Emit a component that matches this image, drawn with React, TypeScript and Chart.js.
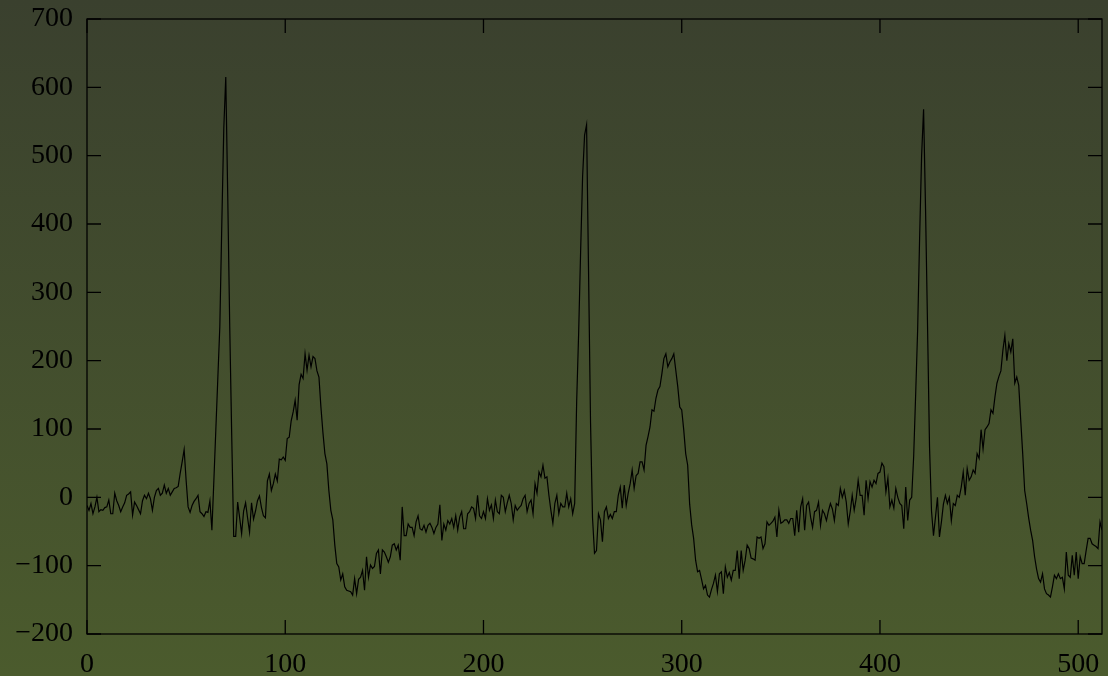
import React, { useEffect, useRef } from "react";
import { Chart, registerables } from "chart.js";

Chart.register(...registerables);

// Signal samples, index 0..127
const segA = [
  -12, -19, -9, -24, -14, 0, -21, -18, -19, -15,
  -14, -4, -24, -24, 6, -5, -12, -21, -14, -8,
  3, 5, 8, -26, -7, -12, -18, -24, -5, 3,
  -2, 6, -2, -19, 0, 10, 13, 3, 6, 18,
  6, 13, 3, 8, 13, 14, 16, 35, 52, 70,
  25, -14, -22, -12, -6, -2, 3, -21, -24, -28,
  -21, -22, -5, -48, 25, 100, 175, 250, 400, 540,
  615, 440, 250, 90, -57, -57, -7, -30, -53, -20,
  -8, -30, -51, -8, -32, -20, -5, 2, -15, -27,
  -30, 24, 34, 10, 20, 34, 24, 56, 55, 59,
  54, 86, 88, 112, 125, 142, 113, 165, 180, 174,
  210, 186, 208, 191, 206, 203, 185, 176, 132, 95,
  64, 49, 10, -19, -33, -70, -97, -102,
];

// index 128..255
const segB = [
  -121, -112, -131, -136, -137, -138, -143, -119, -141, -120,
  -117, -107, -136, -87, -117, -99, -104, -101, -82, -77,
  -112, -77, -80, -87, -95, -87, -70, -68, -77, -70,
  -92, -14, -56, -56, -39, -44, -44, -56, -36, -27,
  -46, -48, -41, -51, -41, -38, -44, -53, -44, -39,
  -11, -63, -39, -48, -34, -39, -31, -44, -27, -48,
  -29, -21, -46, -46, -24, -21, -14, -16, -31, 3,
  -27, -31, -21, -31, -2, -19, -11, -31, -4, -21,
  -24, 3, 0, -21, -8, 3, -9, -33, -12, -19,
  -15, -12, -2, 3, -21, -9, -4, -24, 20, 6,
  37, 30, 47, 28, 30, 3, -19, -38, -9, 3,
  -24, -9, -14, -14, 6, -14, -2, -24, -9, 140,
  240, 360, 470, 530, 545, 330, 110, -30,
];

// index 256..383
const segC = [
  -82, -78, -24, -33, -65, -21, -14, -31, -25, -31,
  -21, -21, 3, 15, -16, 18, -12, 6, 20, 40,
  13, 32, 35, 52, 52, 40, 76, 89, 103, 128,
  126, 145, 157, 162, 181, 203, 210, 191, 198, 203,
  210, 186, 162, 132, 128, 99, 64, 47, -10, -40,
  -60, -92, -109, -107, -120, -134, -129, -143, -146, -135,
  -126, -114, -138, -112, -109, -141, -102, -117, -110, -121,
  -107, -107, -78, -119, -78, -107, -92, -70, -75, -89,
  -90, -92, -58, -60, -58, -75, -68, -36, -41, -38,
  -35, -29, -58, -19, -38, -36, -33, -33, -38, -31,
  -31, -56, -19, -51, -14, -2, -48, -12, -7, -29,
  -44, -21, -19, -7, -41, -19, -24, -34, -20, -9,
  -17, -34, -9, -12, 13, 0, 10, -7,
];

// index 384..512
const segD = [
  -39, -21, 3, -19, -2, 25, 3, 3, -26, 25,
  -2, 23, 15, 25, 20, 35, 37, 50, 45, 8,
  28, -14, -4, -16, 13, 0, -9, -12, -46, 15,
  -34, -4, 0, 60, 150, 245, 380, 500, 568, 420,
  250, 74, -20, -56, -29, 0, -58, -36, -10, 3,
  -9, 0, -34, -9, -12, 3, 0, 15, 37, 3,
  42, 25, 30, 40, 35, 64, 57, 99, 71, 99,
  103, 108, 128, 123, 147, 167, 177, 185, 215, 237,
  200, 225, 213, 232, 167, 176, 164, 113, 64, 10,
  -9, -30, -48, -63, -87, -105, -119, -124, -112, -134,
  -141, -143, -146, -131, -114, -119, -112, -119, -117, -134,
  -80, -114, -117, -85, -114, -80, -119, -87, -97, -97,
  -78, -60, -60, -68, -70, -72, -75, -36, -48,
];

const xTicks = [0, 100, 200, 300, 400, 500];
const yTicks = [-200, -100, 0, 100, 200, 300, 400, 500, 600, 700];

const FONT = "'Liberation Serif', 'Times New Roman', serif";

export default function App() {
  const ref = useRef<HTMLCanvasElement>(null);

  useEffect(() => {
    document.body.style.margin = "0";
    const values = [...segA, ...segB, ...segC, ...segD];
    const points = values.map((v, i) => ({ x: i, y: v }));

    const frame = {
      id: "frame",
      afterDatasetsDraw(chart: any) {
        const { ctx, chartArea: a, scales } = chart;
        ctx.save();
        ctx.strokeStyle = "#000";
        ctx.lineWidth = 1.3;
        ctx.strokeRect(a.left, a.top, a.right - a.left, a.bottom - a.top);
        ctx.beginPath();
        const L = 14;
        for (const t of xTicks) {
          const px = scales.x.getPixelForValue(t);
          ctx.moveTo(px, a.bottom);
          ctx.lineTo(px, a.bottom - L);
          ctx.moveTo(px, a.top);
          ctx.lineTo(px, a.top + L);
        }
        for (const t of yTicks) {
          const py = scales.y.getPixelForValue(t);
          ctx.moveTo(a.left, py);
          ctx.lineTo(a.left + L, py);
          ctx.moveTo(a.right, py);
          ctx.lineTo(a.right - L, py);
        }
        ctx.stroke();
        ctx.restore();
      },
    };

    const chart = new Chart(ref.current as HTMLCanvasElement, {
      type: "line",
      data: {
        datasets: [
          {
            data: points,
            borderColor: "#000",
            borderWidth: 1.2,
            pointRadius: 0,
            tension: 0,
            fill: false,
          },
        ],
      },
      options: {
        animation: false,
        responsive: false,
        devicePixelRatio: 1,
        layout: { padding: { top: 19, right: 6, left: 0, bottom: 0 } },
        plugins: { legend: { display: false }, tooltip: { enabled: false } },
        scales: {
          x: {
            type: "linear",
            min: 0,
            max: 512,
            afterBuildTicks: (s: any) => {
              s.ticks = xTicks.map((v) => ({ value: v }));
            },
            grid: { display: false },
            border: { display: false },
            ticks: {
              color: "#000",
              font: { family: FONT, size: 28 },
              padding: 6,
              maxRotation: 0,
              autoSkip: false,
            },
            afterFit: (s: any) => {
              s.height = 42;
              s.paddingLeft = 0;
              s.paddingRight = 0;
            },
          },
          y: {
            type: "linear",
            min: -200,
            max: 700,
            afterBuildTicks: (s: any) => {
              s.ticks = yTicks.map((v) => ({ value: v }));
            },
            grid: { display: false },
            border: { display: false },
            ticks: {
              color: "#000",
              font: { family: FONT, size: 28 },
              padding: 6,
              autoSkip: false,
              callback: (v: any) => String(v).replace("-", "\u2212"),
            },
            afterFit: (s: any) => {
              s.width = 87;
              s.paddingTop = 0;
              s.paddingBottom = 0;
            },
          },
        },
      },
      plugins: [frame],
    });
    return () => chart.destroy();
  }, []);

  return (
    <div
      style={{
        width: 1108,
        height: 676,
        background: "linear-gradient(to bottom, #3a402e, #4b5b2d)",
      }}
    >
      <canvas ref={ref} width={1108} height={676} style={{ display: "block" }} />
    </div>
  );
}
